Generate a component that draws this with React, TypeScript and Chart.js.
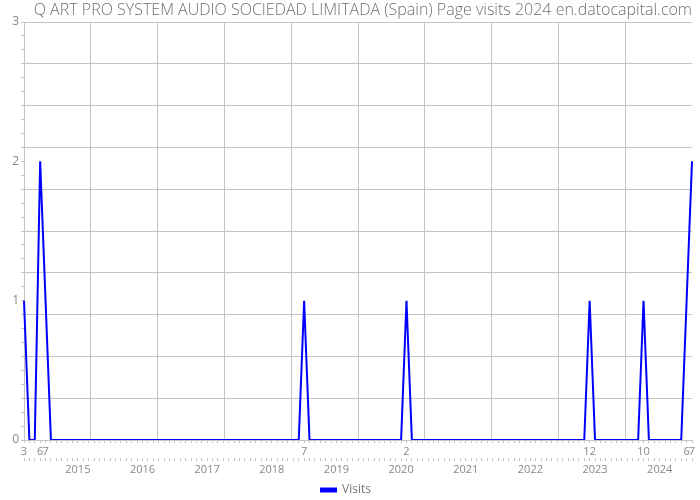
import React, { useEffect, useRef } from "react";
import { Chart, registerables } from "chart.js";

Chart.register(...registerables);

const TITLE = "Q ART PRO SYSTEM AUDIO SOCIEDAD LIMITADA (Spain) Page visits 2024 en.datocapital.com";
const SERIES_NAME = "Visits";

// First month of the series: March 2014, last: July 2024
const START_YEAR = 2014;
const START_MONTH = 3;

// Monthly page visits, one row per year
const visits2014 = [1, 0, 0, 2, 1, 0, 0, 0, 0, 0]; // Mar..Dec
const visits2015 = [0, 0, 0, 0, 0, 0, 0, 0, 0, 0, 0, 0];
const visits2016 = [0, 0, 0, 0, 0, 0, 0, 0, 0, 0, 0, 0];
const visits2017 = [0, 0, 0, 0, 0, 0, 0, 0, 0, 0, 0, 0];
const visits2018 = [0, 0, 0, 0, 0, 0, 1, 0, 0, 0, 0, 0];
const visits2019 = [0, 0, 0, 0, 0, 0, 0, 0, 0, 0, 0, 0];
const visits2020 = [0, 1, 0, 0, 0, 0, 0, 0, 0, 0, 0, 0];
const visits2021 = [0, 0, 0, 0, 0, 0, 0, 0, 0, 0, 0, 0];
const visits2022 = [0, 0, 0, 0, 0, 0, 0, 0, 0, 0, 0, 1];
const visits2023 = [0, 0, 0, 0, 0, 0, 0, 0, 0, 1, 0, 0];
const visits2024 = [0, 0, 0, 0, 0, 1, 2]; // Jan..Jul

const visits = [
  ...visits2014, ...visits2015, ...visits2016, ...visits2017, ...visits2018,
  ...visits2019, ...visits2020, ...visits2021, ...visits2022, ...visits2023, ...visits2024,
];

const yTickLabels = [0, 1, 2, 3];

// Month calendar for each point (category labels)
const monthNums: number[] = [];
const yearNums: number[] = [];
const categories: string[] = [];
for (let i = 0; i < visits.length; i++) {
  const m0 = START_MONTH - 1 + i;
  const y = START_YEAR + Math.floor(m0 / 12);
  const m = (m0 % 12) + 1;
  monthNums.push(m);
  yearNums.push(y);
  categories.push(`${y}-${String(m).padStart(2, "0")}`);
}

const GRID = "#c4c4c4";
const TICK = "#888888";

export default function App() {
  const ref = useRef<HTMLCanvasElement | null>(null);
  useEffect(() => {
    if (!ref.current) return;
    Chart.defaults.font.family = "'Open Sans', 'DejaVu Sans', sans-serif";
    const chart = new Chart(ref.current, {
      type: "line",
      data: {
        labels: categories,
        datasets: [
          {
            label: SERIES_NAME,
            data: visits,
            borderColor: "#0000ff",
            backgroundColor: "#0000ff",
            borderWidth: 2,
            pointRadius: 0,
            tension: 0,
            xAxisID: "x",
            yAxisID: "y",
          },
        ],
      },
      options: {
        responsive: false,
        animation: false,
        layout: { padding: { left: 0, right: 8, top: 0, bottom: -6 } },
        plugins: {
          title: {
            display: true,
            text: TITLE,
            align: "end",
            color: "#707070",
            font: { size: 16, weight: 300 },
            padding: { top: 1, bottom: 1.8 },
          },
          legend: {
            position: "bottom",
            labels: {
              color: "#777",
              font: { size: 12 },
              boxWidth: 15,
              boxHeight: 3,
              padding: 0,
            },
          },
          tooltip: { enabled: false },
        },
        scales: {
          x: {
            type: "category",
            position: "bottom",
            weight: 1,
            offset: false,
            grid: { drawOnChartArea: false, tickLength: 3, color: GRID },
            border: { display: true, color: GRID },
            ticks: {
              autoSkip: false,
              maxRotation: 0,
              padding: 2,
              color: TICK,
              font: { size: 11 },
              callback: (_v: any, i: number) => (visits[i] ? String(monthNums[i]) : ""),
            },
            afterFit: (s: any) => { s.height = 18; },
          },
          x2: {
            type: "category",
            position: "bottom",
            weight: 2,
            offset: false,
            grid: { drawOnChartArea: false, tickLength: 3, color: GRID },
            border: { display: false },
            ticks: {
              autoSkip: false,
              maxRotation: 0,
              padding: 2,
              color: TICK,
              font: { size: 11 },
              callback: (_v: any, i: number) => (monthNums[i] === 1 ? String(yearNums[i]) : ""),
            },
            afterFit: (s: any) => { s.height = 26; },
          },
          xg: {
            type: "linear",
            position: "top",
            min: 0,
            max: 10,
            grid: {
              drawTicks: false,
              color: (c: any) => (c.tick && c.tick.value === 10 ? "rgba(0,0,0,0)" : GRID),
            },
            border: { display: false },
            ticks: { display: false, stepSize: 1 },
            afterFit: (s: any) => { s.height = 0; },
          },
          y: {
            type: "linear",
            position: "left",
            min: 0,
            max: 3,
            grid: { drawOnChartArea: false, tickLength: 3, color: GRID },
            border: { display: true, color: GRID },
            ticks: {
              stepSize: 0.1,
              autoSkip: false,
              maxTicksLimit: 200,
              padding: 2,
              color: TICK,
              font: { size: 12 },
              callback: (v: any) => {
                const r = Math.round(v);
                return Math.abs(v - r) < 1e-6 && yTickLabels.includes(r) ? String(r) : "";
              },
            },
            afterFit: (s: any) => { s.width = 24; },
          },
          yg: {
            type: "linear",
            position: "right",
            min: 0,
            max: 10,
            grid: { drawTicks: false, color: GRID },
            border: { display: false },
            ticks: { display: false, stepSize: 1 },
            afterFit: (s: any) => { s.width = 0; },
          },
        },
      } as any,
    });
    return () => chart.destroy();
  }, []);
  return (
    <div style={{ position: "fixed", left: 0, top: 0, width: 700, height: 500, background: "#fff" }}>
      <canvas ref={ref} width={700} height={500} />
    </div>
  );
}
